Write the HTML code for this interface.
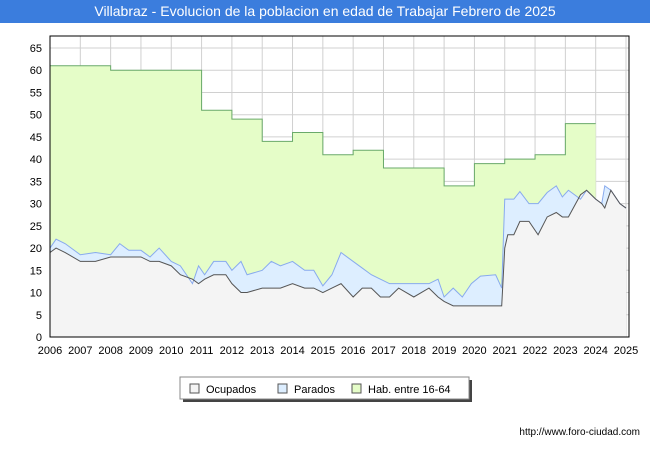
<!DOCTYPE html>
<html><head><meta charset="utf-8"><style>
body{margin:0;background:#fff;font-family:"Liberation Sans",sans-serif}
#wrap{position:relative;width:650px;height:450px;overflow:hidden}
#title{position:absolute;left:0;top:0;width:650px;height:23px;background:#3b7ddd;color:#fff;font-size:14px;line-height:23px;text-align:center}
#url{position:absolute;right:10px;top:427px;font-size:10px;color:#000}
</style></head><body>
<div id="wrap">
<div id="title">Villabraz - Evolucion de la poblacion en edad de Trabajar Febrero de 2025</div>
<svg id="svg" width="650" height="450" style="position:absolute;left:0;top:0"></svg>
<div id="url">http://www.foro-ciudad.com</div>
</div>
<script>
const yearTicks=[2006,2007,2008,2009,2010,2011,2012,2013,2014,2015,2016,2017,2018,2019,2020,2021,2022,2023,2024,2025];
const valueTicks=[0,5,10,15,20,25,30,35,40,45,50,55,60,65];
const habYears=[2006,2008,2011,2012,2013,2014,2015,2016,2017,2019,2020,2021,2022,2023,2024];
const habValues=[61,60,51,49,44,46,41,42,38,34,39,40,41,48];
const times=[2006,2006.2,2006.5,2007,2007.5,2008,2008.3,2008.6,2009,2009.3,2009.6,2010,2010.3,2010.7,2010.9,2011.1,2011.4,2011.8,2012,2012.3,2012.5,2013,2013.3,2013.6,2014,2014.4,2014.7,2015,2015.3,2015.6,2016,2016.3,2016.6,2016.9,2017.2,2017.5,2018,2018.5,2018.8,2019,2019.3,2019.6,2019.9,2020.2,2020.7,2020.9,2021,2021.1,2021.3,2021.5,2021.8,2022.1,2022.4,2022.7,2022.9,2023.1,2023.5,2023.7,2024,2024.2,2024.3,2024.5,2024.8,2025];
const ocupados=[19,20,19,17,17,18,18,18,18,17,17,16,14,13,12,13,14,14,12,10,10,11,11,11,12,11,11,10,11,12,9,11,11,9,9,11,9,11,9,8,7,7,7,7,7,7,20,23,23,26,26,23,27,28,27,27,32,33,31,30,29,33,30,29];
const parados=[20,22,21,18.5,19,18.5,21,19.5,19.5,18,20,17,16,12,16,14,17,17,15,17,14,15,17,16,17,15,15,11.5,14,19,17,15.5,14,13,12,12,12,12,13,9,11,9,12,13.7,14,11,31,31,31,32.7,30,30,32.5,34,31.5,33,31,33,31,30,34,33,30,29];
const svg=document.getElementById('svg');
const NS='http://www.w3.org/2000/svg';
const X0=50,X1=626,Y0=337,Y65=48,L=50,R=629,T=36;
const xs=v=>X0+(v-2006)*(X1-X0)/19;
const ys=v=>Y0-v*(Y0-Y65)/65;
function mk(tag,attrs){const e=document.createElementNS(NS,tag);for(const k in attrs)e.setAttribute(k,attrs[k]);svg.appendChild(e);return e;}
let e=mk('rect',{x:L,y:T,width:R-L,height:Y0-T,fill:'#fff'});

valueTicks.forEach(v=>{const l=mk('line',{x1:L,x2:R,y1:ys(v),y2:ys(v),stroke:'#d0d0d0'});

const t=mk('text',{x:42,y:ys(v)+4,'text-anchor':'end','font-size':11,fill:'#000'});t.textContent=v;
});
yearTicks.forEach(v=>{const l=mk('line',{y1:T,y2:Y0,x1:xs(v),x2:xs(v),stroke:'#d0d0d0'});

const t=mk('text',{x:xs(v),y:354,'text-anchor':'middle','font-size':11,fill:'#000'});t.textContent=v;
});
// hab step
let hp='';habValues.forEach((v,i)=>{hp+=(i?'L':'M')+xs(habYears[i])+','+ys(v)+'L'+xs(habYears[i+1])+','+ys(v);});
e=mk('path',{d:hp+'L'+xs(habYears[habYears.length-1])+','+Y0+'L'+xs(2006)+','+Y0+'Z',fill:'#e5fdc8'});

e=mk('path',{d:hp,fill:'none',stroke:'#6aaa6a','stroke-width':1});

function line(arr){return arr.map((v,i)=>(i?'L':'M')+xs(times[i])+','+ys(v)).join('');}
const pl=line(parados),ol=line(ocupados);
e=mk('path',{d:pl+'L'+xs(2025)+','+Y0+'L'+xs(2006)+','+Y0+'Z',fill:'#ddeeff'});

e=mk('path',{d:ol+'L'+xs(2025)+','+Y0+'L'+xs(2006)+','+Y0+'Z',fill:'#f4f4f4'});

e=mk('path',{d:pl,fill:'none',stroke:'#88aaee','stroke-width':1});

e=mk('path',{d:ol,fill:'none',stroke:'#555','stroke-width':1});

e=mk('rect',{x:L,y:T,width:R-L,height:Y0-T,fill:'none',stroke:'#000'});

// legend
e=mk('rect',{x:183,y:380,width:289,height:22,fill:'#444'});

e=mk('rect',{x:180,y:377,width:289,height:22,fill:'#fff',stroke:'#888'});

const leg=[['Ocupados','#f4f4f4',190],['Parados','#ddeeff',278],['Hab. entre 16-64','#e5fdc8',352]];
leg.forEach(([n,c,x])=>{const r=mk('rect',{x:x,y:384,width:9,height:9,fill:c,stroke:'#555'});

const t=mk('text',{x:x+16,y:393,'font-size':11,fill:'#000'});t.textContent=n;
});
</script>
</body></html>
